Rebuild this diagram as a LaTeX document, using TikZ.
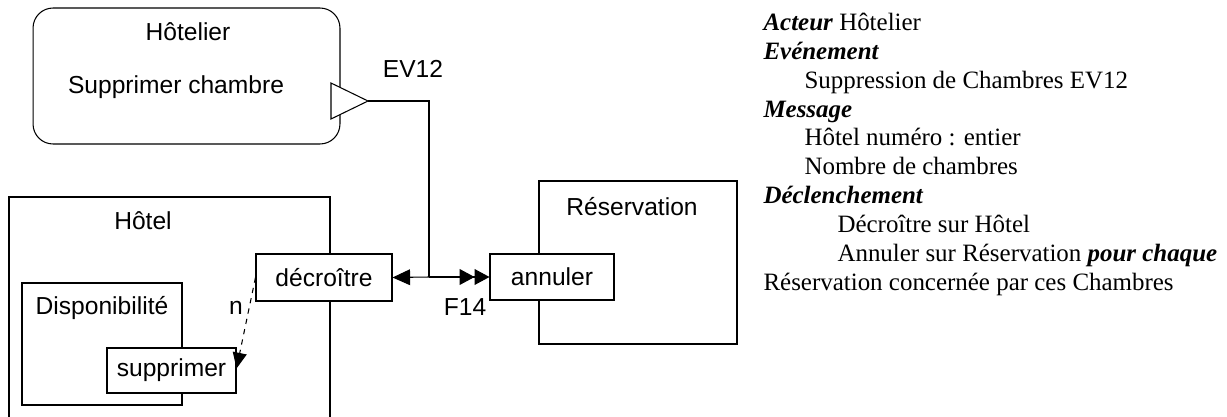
\documentclass[tikz,border=0pt]{standalone}
\usepackage{fontspec}
\setmainfont{Liberation Serif}
\setsansfont{Liberation Sans}
\usetikzlibrary{arrows.meta}

\begin{document}
\begin{tikzpicture}[x=0.02cm,y=-0.02cm,line width=0.6pt,
    box/.style={draw,fill=white,inner sep=0pt,font=\sffamily\fontsize{14}{16}\selectfont},
    lbl/.style={inner sep=0pt,font=\sffamily\fontsize{14}{16}\selectfont},
    txt/.style={anchor=base west,inner sep=0pt,font=\fontsize{14.2}{16}\selectfont}]
    \useasboundingbox (0,0) rectangle (1227,416);
    % acteur et evenement
    \node[draw,rounded corners=0.4cm,minimum width=6.14cm,minimum height=2.72cm] (acteur) at (186.5,76) {};
    \node[lbl] (nomact) at (188,32) {Hôtelier};
    \node[lbl] (op) at (176,87) {Supprimer chambre};
    \draw[fill=white] (331,83) -- (368,101) -- (331,119) -- cycle;
    \coordinate (ev) at (368,101);
    \node[lbl] (ev12) at (413,69) {EV12};
    % objets
    \draw (9,197) rectangle (330,440);
    \node[lbl] (hotel) at (143,221) {Hôtel};
    \draw (22,283) rectangle (182,405);
    \node[lbl] (dispo) at (102,308) {Disponibilité};
    \draw (539,181) rectangle (737,344);
    \node[lbl] (resa) at (632,207) {Réservation};
    \node[box,minimum width=2.72cm,minimum height=0.94cm] (dec) at (324,277.5) {décroître};
    \node[box,minimum width=2.48cm,minimum height=0.92cm] (ann) at (552,277) {annuler};
    \node[box,minimum width=2.58cm,minimum height=0.9cm] (supp) at (171.5,370.5) {supprimer};
    % flux
    \coordinate (jn) at (429,277);
    \draw (ev) -| (jn);
    \draw[-{Triangle[length=10pt,width=9pt]}] (jn) -- (dec.east);
    \draw[-{Triangle[length=8.5pt,width=9pt]Triangle[length=8.5pt,width=9pt]}] (jn) -- (ann.west);
    \node[lbl] (f14) at (465,307) {F14};
    \draw[dashed,-{Triangle[length=9pt,width=8pt]}] (dec.west) -- ([yshift=0.04cm]supp.east);
    \node[lbl] (card) at (236,308) {n};
    % description
    \node[txt] (l1) at (763,30) {\textbf{\textit{Acteur}} Hôtelier};
    \node[txt] (l2) at (763,59) {\textbf{\textit{Evénement}}};
    \node[txt] (l3) at (804,88) {Suppression de Chambres EV12};
    \node[txt] (l4) at (763,117) {\textbf{\textit{Message}}};
    \node[txt] (l5) at (804,145) {Hôtel numéro : entier};
    \node[txt] (l6) at (804,174) {Nombre de chambres};
    \node[txt] (l7) at (763,203) {\textbf{\textit{Déclenchement}}};
    \node[txt] (l8) at (837,232) {Décroître sur Hôtel};
    \node[txt] (l9) at (837,261) {Annuler sur Réservation \textbf{\textit{pour chaque}}};
    \node[txt] (l10) at (763,290) {Réservation concernée par ces Chambres};
\end{tikzpicture}
\end{document}
